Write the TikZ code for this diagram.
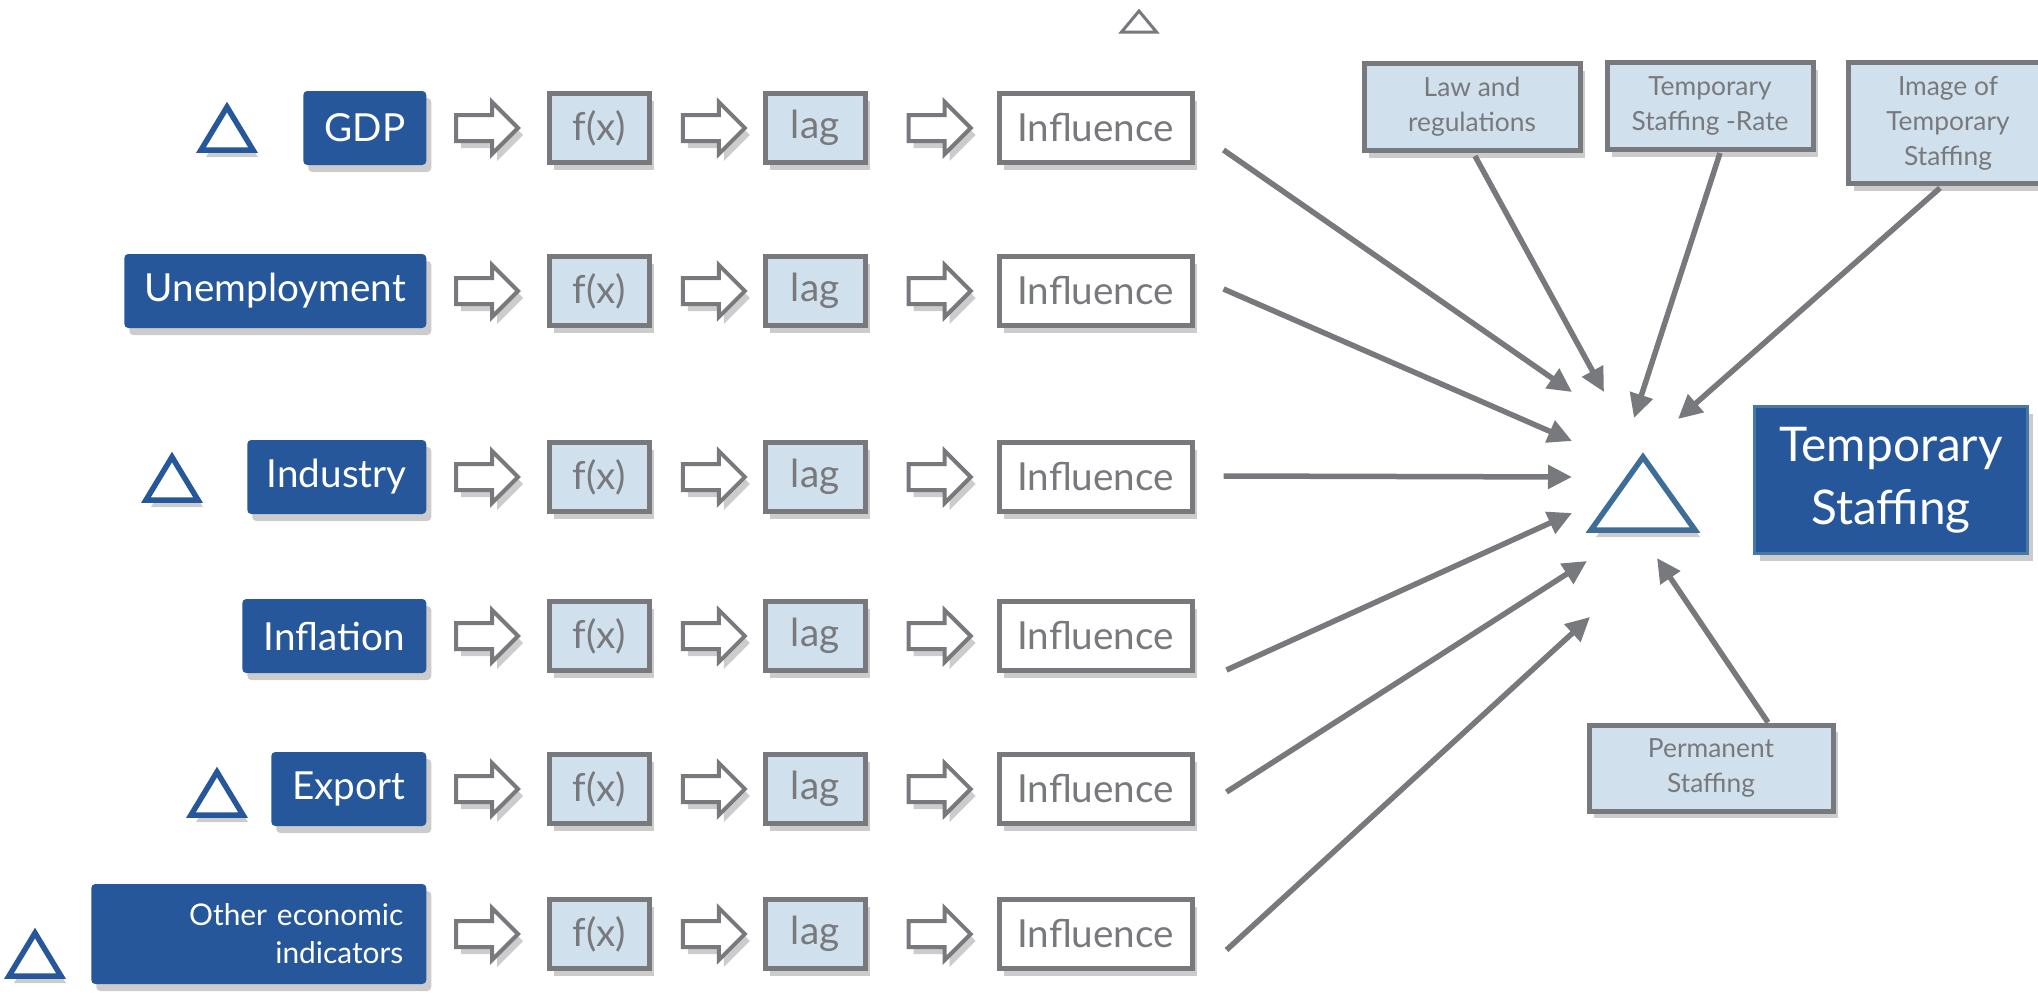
\documentclass[tikz,border=0pt]{standalone}
\usepackage{fontspec}
\setmainfont{Lato}
\usetikzlibrary{arrows.meta, positioning, calc, shapes.arrows, shadows}
\definecolor{darkblue}{RGB}{39,87,155}
\definecolor{paleblue}{RGB}{208,224,236}
\definecolor{linegray}{RGB}{120,121,125}
\definecolor{steel}{RGB}{62,110,152}
\definecolor{rimblue}{RGB}{74,120,165}
\tikzset{
    %Soft shadow under the boxes
    softshadow/.style={drop shadow={shadow xshift=0.5mm, shadow yshift=-0.7mm, opacity=0.2, fill=black}},
    %Blue boxes for the indicators
    srcbox/.style={
           rectangle,
           rounded corners=0.4mm,
           fill=darkblue, text=white,
           minimum height=7.4mm,
           inner sep=0pt,
           font=\fontsize{11}{13}\selectfont,
           softshadow},
    %Grey framed boxes
    calcbox/.style={
           rectangle,
           draw=linegray, line width=0.5mm,
           fill=paleblue, text=linegray,
           minimum width=10mm, minimum height=6.9mm,
           font=\fontsize{11}{13}\selectfont,
           softshadow},
    impactbox/.style={calcbox, fill=white, minimum width=19.3mm},
    notebox/.style={calcbox, font=\fontsize{7.5}{10}\selectfont, align=center, inner sep=0pt},
    % Hollow arrows between the steps
    blockarrow/.style={
           single arrow,
           draw=linegray, line width=0.4mm, fill=white,
           minimum height=6.2mm,
           single arrow head extend=1.3mm,
           inner sep=1.1mm,
           softshadow},
    % Define arrow style
    pil/.style={
           -{Triangle[length=2.4mm,width=2.3mm]},
           line width=0.55mm,
           draw=linegray},
    % Delta sign
    pics/deltatri/.style n args={4}{code={
           \draw[line width=#3, fill=white, #4] (-#1/2,0) -- (0,-#2) -- (#1/2,0) -- cycle;}}
}

\begin{document}
\begin{tikzpicture}[x=0.1mm, y=-0.1mm]
\useasboundingbox (0,0) rectangle (2038,995);

% Indicators
\node[srcbox, minimum width=12.3mm, anchor=east] (gdp) at (427,128) {GDP};
\node[srcbox, minimum width=30.2mm, anchor=east] (unemp) at (427,291) {Unemployment};
\node[srcbox, minimum width=17.9mm, anchor=east] (industry) at (427,477) {Industry};
\node[srcbox, minimum width=18.4mm, anchor=east] (inflation) at (427,636) {Inflation};
\node[srcbox, minimum width=15.5mm, anchor=east] (export) at (427,789) {Export};
\node[srcbox, minimum height=10mm, text width=28.9mm, inner xsep=2.3mm, align=right,
      font=\fontsize{8.5}{10.8}\selectfont, anchor=east] (other) at (427,934) {Other economic\\indicators};

% Steps of every row
\foreach \i/\src in {1/gdp, 2/unemp, 3/industry, 4/inflation, 5/export, 6/other} {
  \node[blockarrow, right=2.7mm of \src] (pa\i) {};
  \node[calcbox, right=2.6mm of pa\i] (fx\i) {f(x)};
  \node[blockarrow, right=2.9mm of fx\i] (pb\i) {};
  \node[calcbox, right=1.5mm of pb\i] (lag\i) {lag};
  \node[blockarrow, right=3.9mm of lag\i] (pc\i) {};
  \node[impactbox, right=2.3mm of pc\i] (impact\i) {Influence};
}

% Other factors
\node[notebox, minimum width=21.6mm, minimum height=8.7mm] (law) at (1472,107) {Law and\\regulations};
\node[notebox, minimum width=20.6mm, minimum height=8.7mm] (rate) at (1710,106) {Temporary\\Staffing -Rate};
\node[notebox, minimum width=19.9mm, minimum height=12.1mm] (image) at (1948,123) {Image of\\Temporary\\Staffing};
\node[notebox, minimum width=24.4mm, minimum height=8.6mm] (perm) at (1711,768) {Permanent\\Staffing};
\node[rectangle, draw=rimblue, line width=0.35mm, fill=darkblue, text=white, align=center,
      minimum width=27.3mm, minimum height=14.7mm, font=\fontsize{13.6}{18}\selectfont,
      softshadow] (temp) at (1891,480) {Temporary\\Staffing};

% Delta signs
\coordinate (delta) at (1643,494);
\pic[color=darkblue] at (227,150) {deltatri={52}{43}{0.55mm}{softshadow}};
\pic[color=darkblue] at (172,500) {deltatri={52}{43}{0.55mm}{softshadow}};
\pic[color=darkblue] at (217,815) {deltatri={52}{43}{0.55mm}{softshadow}};
\pic[color=darkblue] at (35,976) {deltatri={52}{43}{0.55mm}{softshadow}};
\pic[color=steel] at ($(delta)+(0,36)$) {deltatri={104}{73}{0.55mm}{softshadow}};
\pic[color=linegray] at (1139,32) {deltatri={35}{21}{0.3mm}{}};

% Arrow ends round the delta
\coordinate (in1) at ($(delta)+(-71,-102)$);
\coordinate (in2) at ($(delta)+(-71,-53)$);
\coordinate (in3) at ($(delta)+(-71,-17)$);
\coordinate (in4) at ($(delta)+(-71,19)$);
\coordinate (in5) at ($(delta)+(-56,67)$);
\coordinate (in6) at ($(delta)+(-53,123)$);
\coordinate (in7) at ($(delta)+(-39,-102)$);
\coordinate (in8) at ($(delta)+(-9,-76)$);
\coordinate (in9) at ($(delta)+(35,-75)$);
\coordinate (in10) at ($(delta)+(14,64)$);

\foreach \i/\dx/\dy in {1/29/22, 2/29/-2, 3/29/-1, 4/32/34, 5/32/3, 6/32/16}
  \draw[pil] ($(impact\i.east)+(\dx,\dy)$) -- (in\i);

\draw[pil] ($(law.south)+(3,3)$) -- (in7);
\draw[pil] ($(rate.south)+(10,1)$) -- (in8);
\draw[pil] ($(image.south)+(-8,2)$) -- (in9);
\draw[pil] ($(perm.north)+(57,0)$) -- (in10);

\end{tikzpicture}
\end{document}
